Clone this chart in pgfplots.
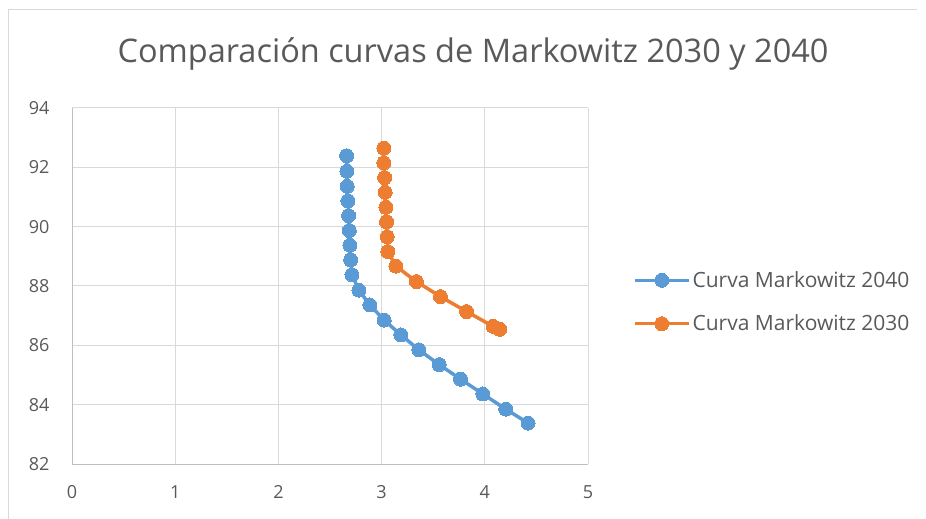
\documentclass[border=0pt]{standalone}
\usepackage{fontspec}
\setmainfont{Open Sans}
\usepackage{pgfplots}
\pgfplotsset{compat=1.18}
\definecolor{xBlue}{HTML}{5B9BD5}
\definecolor{xOrange}{HTML}{ED7D31}
\definecolor{xText}{HTML}{595959}
\definecolor{xGrid}{HTML}{D9D9D9}
\definecolor{xAxis}{HTML}{BFBFBF}

\begin{document}
\begin{tikzpicture}
\path[use as bounding box] (0,0) rectangle (926bp,519bp);
% chart area frame (left and top edges are visible)
\draw[xGrid, line width=1bp] (8bp,0) -- (8bp,509.5bp) -- (917bp,509.5bp);

\node[anchor=base, text=xText, font=\fontsize{32.5bp}{38bp}\selectfont]
  at (473bp,456bp) {Comparación curvas de Markowitz 2030 y 2040};

\begin{axis}[
  at={(72bp,55bp)}, anchor=south west,
  scale only axis, width=516bp, height=356bp,
  xmin=0, xmax=5, ymin=82, ymax=94,
  xtick={0,1,2,3,4,5}, ytick={82,84,86,88,90,92,94},
  grid=major, major grid style={xGrid, line width=1bp},
  axis lines=left, axis line style={-, xAxis, line width=1bp},
  tick style={draw=none},
  /pgf/number format/assume math mode=true,
  tick label style={font=\fontsize{18bp}{22bp}\selectfont, text=xText},
  xticklabel style={yshift=-16bp},
  yticklabel style={xshift=-17bp},
  legend style={at={(1.087,0.455)}, anchor=west, draw=none, fill=none,
    font=\fontsize{21bp}{25bp}\selectfont, text=xText,
    row sep=22bp, inner sep=0pt},
  legend cell align=left,
  legend image code/.code={
    \draw[#1, mark repeat=2, mark phase=2]
      plot coordinates {(0bp,0bp) (27bp,0bp) (54bp,0bp)};
  },
  clip=false,
]
\addplot[xBlue, line width=3.5bp, mark=*, mark size=7bp,
  mark options={fill=xBlue, draw=xBlue, line width=0pt}]
coordinates {
  (2.661,92.39) (2.664,91.87) (2.667,91.36) (2.674,90.87) (2.680,90.37)
  (2.687,89.87) (2.693,89.37) (2.700,88.88) (2.713,88.38) (2.780,87.86)
  (2.887,87.36) (3.025,86.85) (3.187,86.35) (3.361,85.85) (3.558,85.35)
  (3.765,84.86) (3.981,84.36) (4.203,83.85) (4.419,83.38)
};
\addlegendentry{Curva Markowitz 2040}
\addplot[xOrange, line width=3.5bp, mark=*, mark size=7bp,
  mark options={fill=xOrange, draw=xOrange, line width=0pt}]
coordinates {
  (3.022,92.65) (3.022,92.15) (3.029,91.65) (3.035,91.16) (3.042,90.65)
  (3.048,90.16) (3.054,89.66) (3.061,89.16) (3.138,88.67) (3.337,88.15)
  (3.571,87.64) (3.823,87.14) (4.080,86.64) (4.145,86.54)
};
\addlegendentry{Curva Markowitz 2030}
\end{axis}
\end{tikzpicture}
\end{document}
